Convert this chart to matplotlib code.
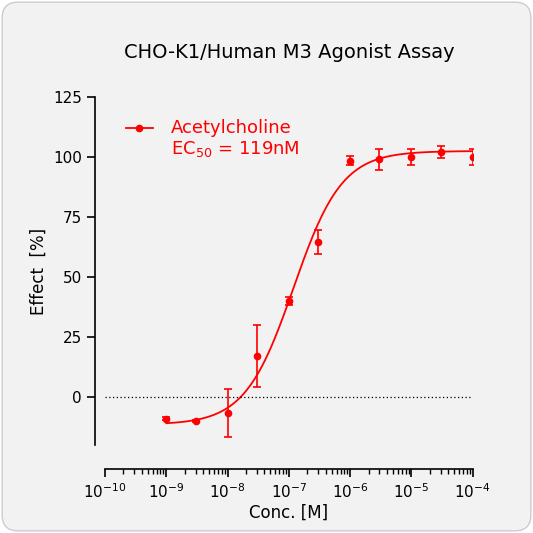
import numpy as np
import matplotlib.pyplot as plt
from matplotlib.patches import FancyBboxPatch
from matplotlib.ticker import LogLocator, FixedLocator

conc = [1e-9, 3e-9, 1e-8, 3e-8, 1e-7, 3e-7, 1e-6, 3e-6, 1e-5, 3e-5, 1e-4]
effect = [-9, -10, -6.5, 17, 40, 64.5, 98.5, 99, 100, 102, 100]
err = [0.5, 0.5, 10, 13, 1.5, 5, 2, 4.5, 3.5, 2.5, 3.5]

# fitted 4PL parameters
bottom, top, ec50, hill = -11.5, 102.5, 119e-9, 1.1

red = '#ff0000'
fig = plt.figure(figsize=(5.33, 5.33), dpi=100)
fig.patch.set_facecolor('white')
bg = FancyBboxPatch((0.004, 0.004), 0.992, 0.992, boxstyle='round,pad=0,rounding_size=0.03',
                    transform=fig.transFigure, facecolor='#f2f2f2', edgecolor='#cccccc', lw=1, zorder=-10)
fig.patches.append(bg)
ax = fig.add_axes([0.197, 0.165, 0.69, 0.653])
ax.set_facecolor('none')

xs = np.logspace(-9, -4, 300)
ys = bottom + (top - bottom) / (1 + (ec50 / xs) ** hill)
ax.plot(xs, ys, color=red, lw=1.3)
ax.errorbar(conc, effect, yerr=err, fmt='o', color=red, ms=4.5, capsize=3, elinewidth=1.2, capthick=1.2)
ax.axhline(0, color='black', lw=0.9, ls=(0, (1, 2)))

ax.set_xscale('log')
ax.set_xlim(1e-10, 1e-4)
ax.set_ylim(-20, 125)
ax.set_yticks([0, 25, 50, 75, 100, 125])
ax.yaxis.set_minor_locator(FixedLocator([]))
ax.xaxis.set_major_locator(LogLocator(base=10, numticks=10))
ax.xaxis.set_minor_locator(LogLocator(base=10, subs=np.arange(2, 10), numticks=10))
for s in ['top', 'right']:
    ax.spines[s].set_visible(False)
ax.spines['left'].set_position(('outward', 7))
ax.spines['bottom'].set_position(('outward', 17))
for s in ['left', 'bottom']:
    ax.spines[s].set_linewidth(1.2)
ax.tick_params(axis='both', which='major', length=6, width=1.2, labelsize=11)
ax.tick_params(axis='x', which='minor', length=3.5, width=1)
ax.set_xlabel('Conc. [M]', fontsize=12, labelpad=2)
ax.set_ylabel('Effect  [%]', fontsize=12)
ax.set_title('CHO-K1/Human M3 Agonist Assay', fontsize=14, pad=28)

ax.plot([2.2e-10, 6e-10], [112, 112], color=red, lw=1.3)
ax.plot([3.6e-10], [112], 'o', color=red, ms=4.5)
ax.text(1.2e-9, 112, 'Acetylcholine', color=red, fontsize=13, va='center')
ax.text(1.2e-9, 103.5, r'EC$_{50}$ = 119nM', color=red, fontsize=13, va='center')

fig.savefig('out.png', dpi=100, facecolor=fig.get_facecolor())
